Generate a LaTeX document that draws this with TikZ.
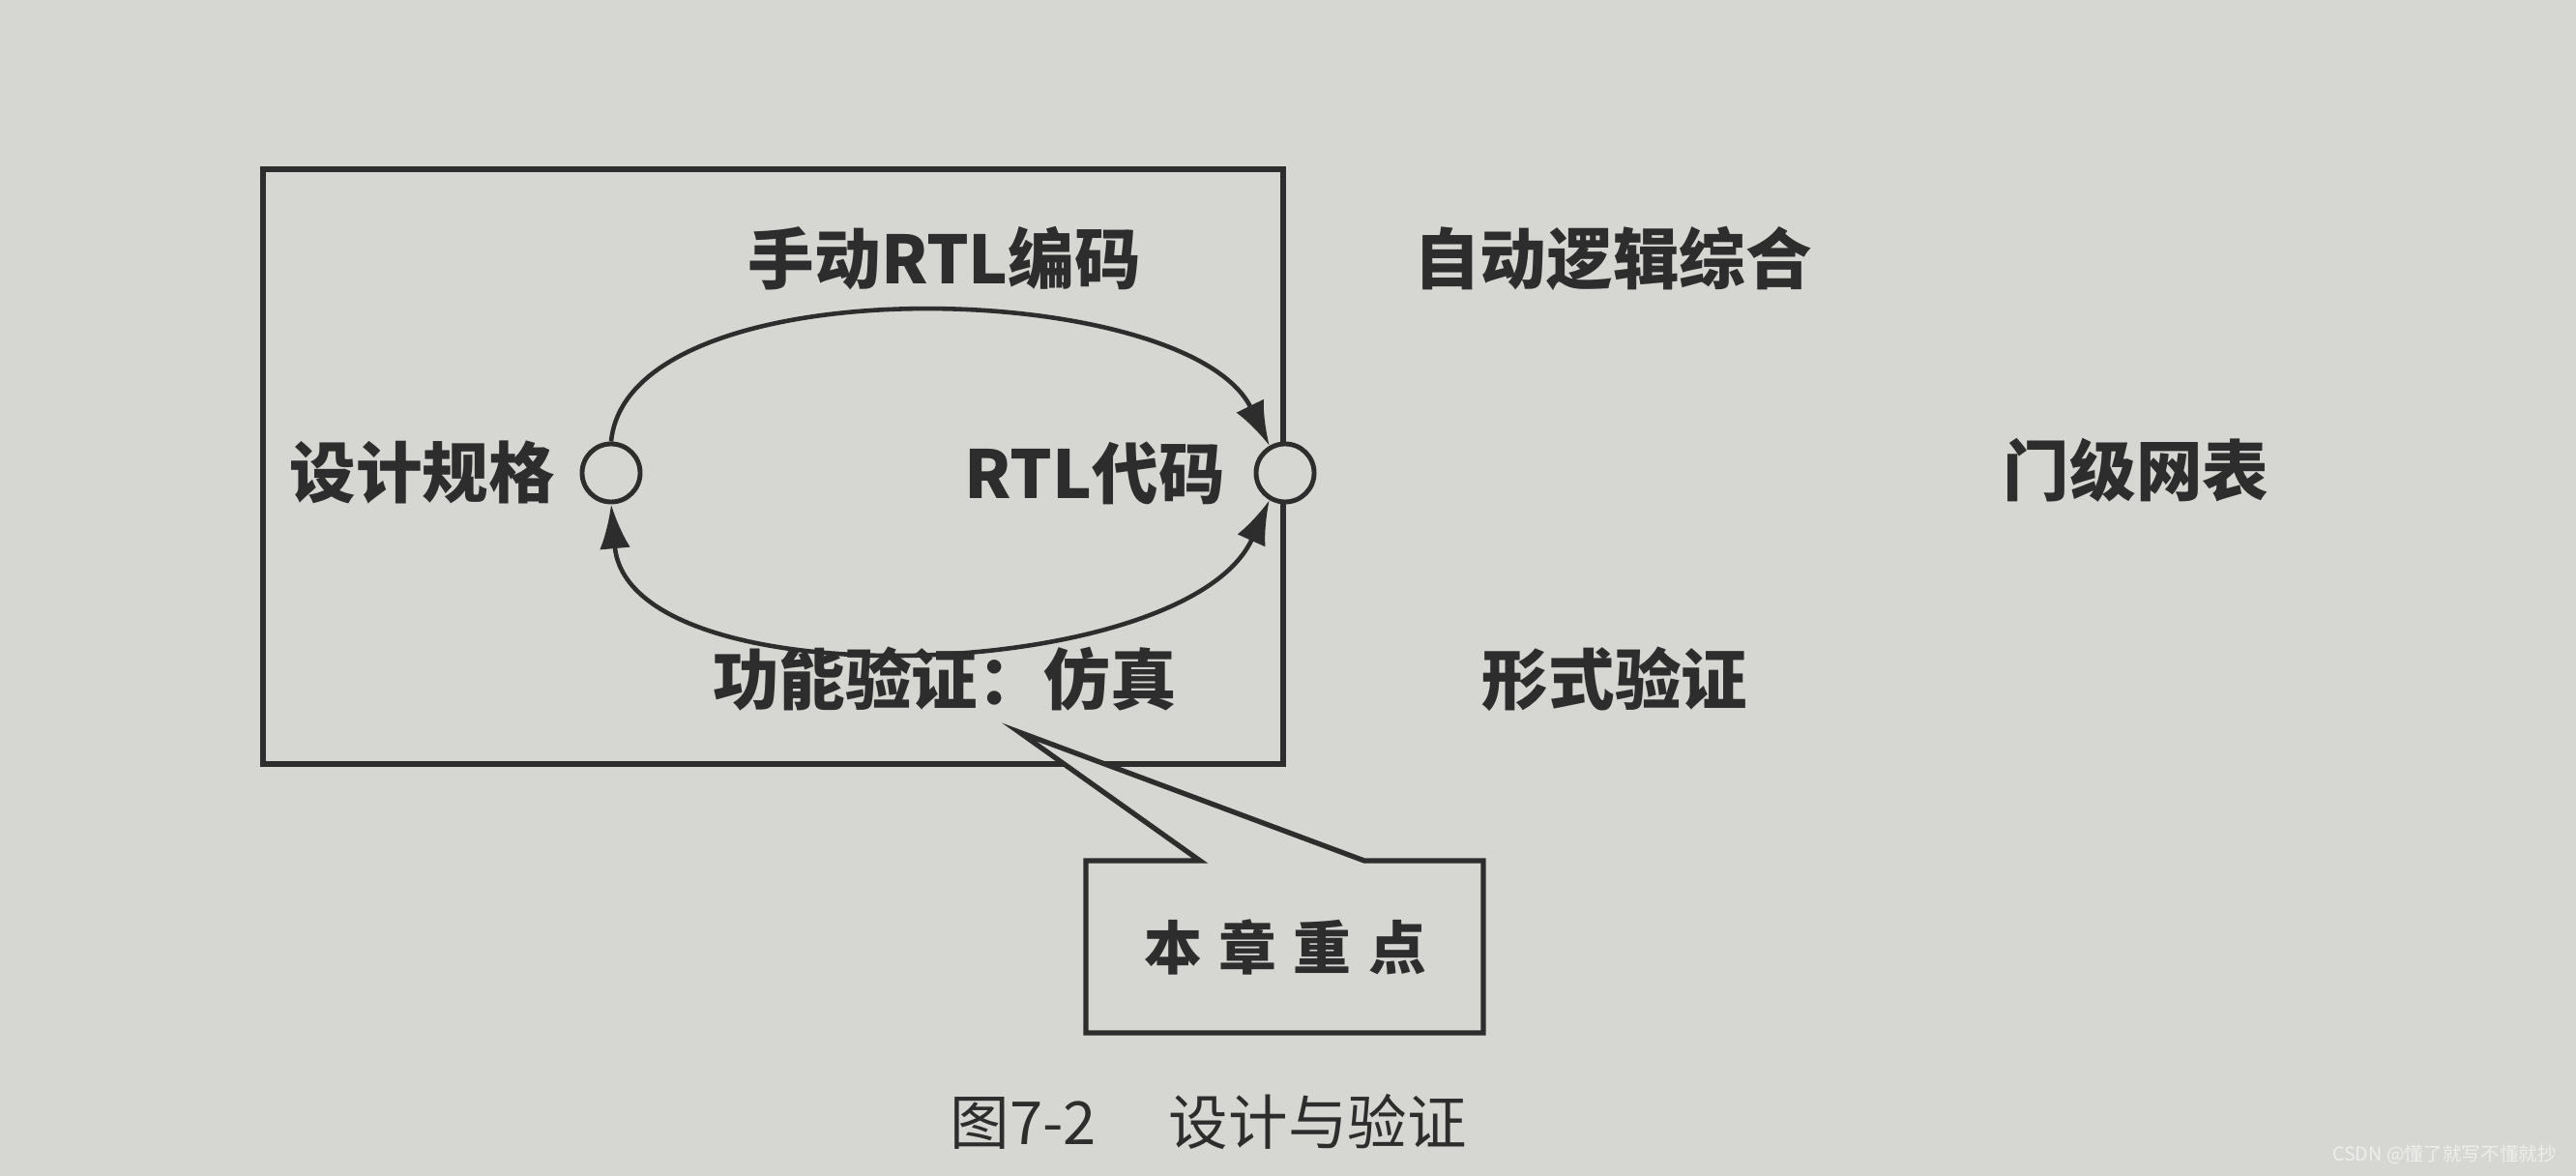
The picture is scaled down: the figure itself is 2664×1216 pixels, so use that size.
\documentclass[tikz,border=0pt]{standalone}
\usepackage{fontspec}
\setmainfont{Noto Sans CJK SC}
\usepackage{xcolor}
\usepackage{tikz}
\usetikzlibrary{arrows.meta,positioning}
\definecolor{pagebg}{RGB}{214,214,210}
\definecolor{ink}{RGB}{45,45,45}
\definecolor{markgray}{RGB}{238,238,236}

\begin{document}
\begin{tikzpicture}[x=0.01cm,y=-0.01cm,
  frame/.style={ink, line width=1.5pt, line join=miter},
  port/.style={circle, draw=ink, fill=pagebg, line width=1.4pt, minimum size=0.6cm, inner sep=0pt},
  lbl/.style={text=ink, font=\fontsize{19.5}{22}\selectfont\bfseries, inner sep=0pt},
  flow/.style={ink, line width=1.3pt, -{Latex[length=13pt,width=9pt]}},
  note/.style={text=ink, font=\fontsize{17}{20}\selectfont\bfseries, inner sep=0pt}]
% page
\fill[pagebg] (0,0) rectangle (2664,1216);
\useasboundingbox (0,0) rectangle (2664,1216);
% design loop frame
\draw[frame] (272,175) rectangle (1327,790);
\node[port] (spec) at (632,489) {};
\node[port] (rtl) at (1329,489) {};
\node[lbl, left=0.25cm of spec] (specl) {设计规格};
\node[lbl, left=0.29cm of rtl] (rtll) {RTL代码};
\node[lbl] (coding) at (977,267) {手动RTL编码};
\node[lbl] (sim) at (977,702) {功能验证：仿真};
% loop arcs
\draw[flow] (spec.north) .. controls +(18,-185) and +(-85,-174) .. (rtl.120);
\draw[flow, {Latex[length=13pt,width=9pt]}-{Latex[length=13pt,width=9pt]}]
  (spec.south) .. controls +(18,205) and +(-85,190) .. (rtl.240);
% right part
\node[lbl] (synth) at (1668,267) {自动逻辑综合};
\node[lbl] (netlist) at (2209,486) {门级网表};
\node[lbl] (formal) at (1670,702) {形式验证};
% callout
\coordinate (tip) at (1054,757);
\draw[frame, fill=pagebg] (1123,890) -- (1241,890) -- (tip) -- (1411,890)
  -- (1534,890) -- (1534,1068) -- (1123,1068) -- cycle;
\node[note] (focus) at (1329,979) {本\hspace{5pt}章\hspace{5pt}重\hspace{5pt}点};
% caption
\node[text=ink, font=\fontsize{17.5}{20}\selectfont, anchor=west, inner sep=0pt] (caption)
  at (982,1160) {图7-2\hspace{0.75cm}设计与验证};
\node[text=markgray, font=\fontsize{5.6}{7}\selectfont, anchor=east, inner sep=0pt] (mark)
  at (2645,1194) {CSDN @懂了就写不懂就抄};
\end{tikzpicture}
\end{document}
